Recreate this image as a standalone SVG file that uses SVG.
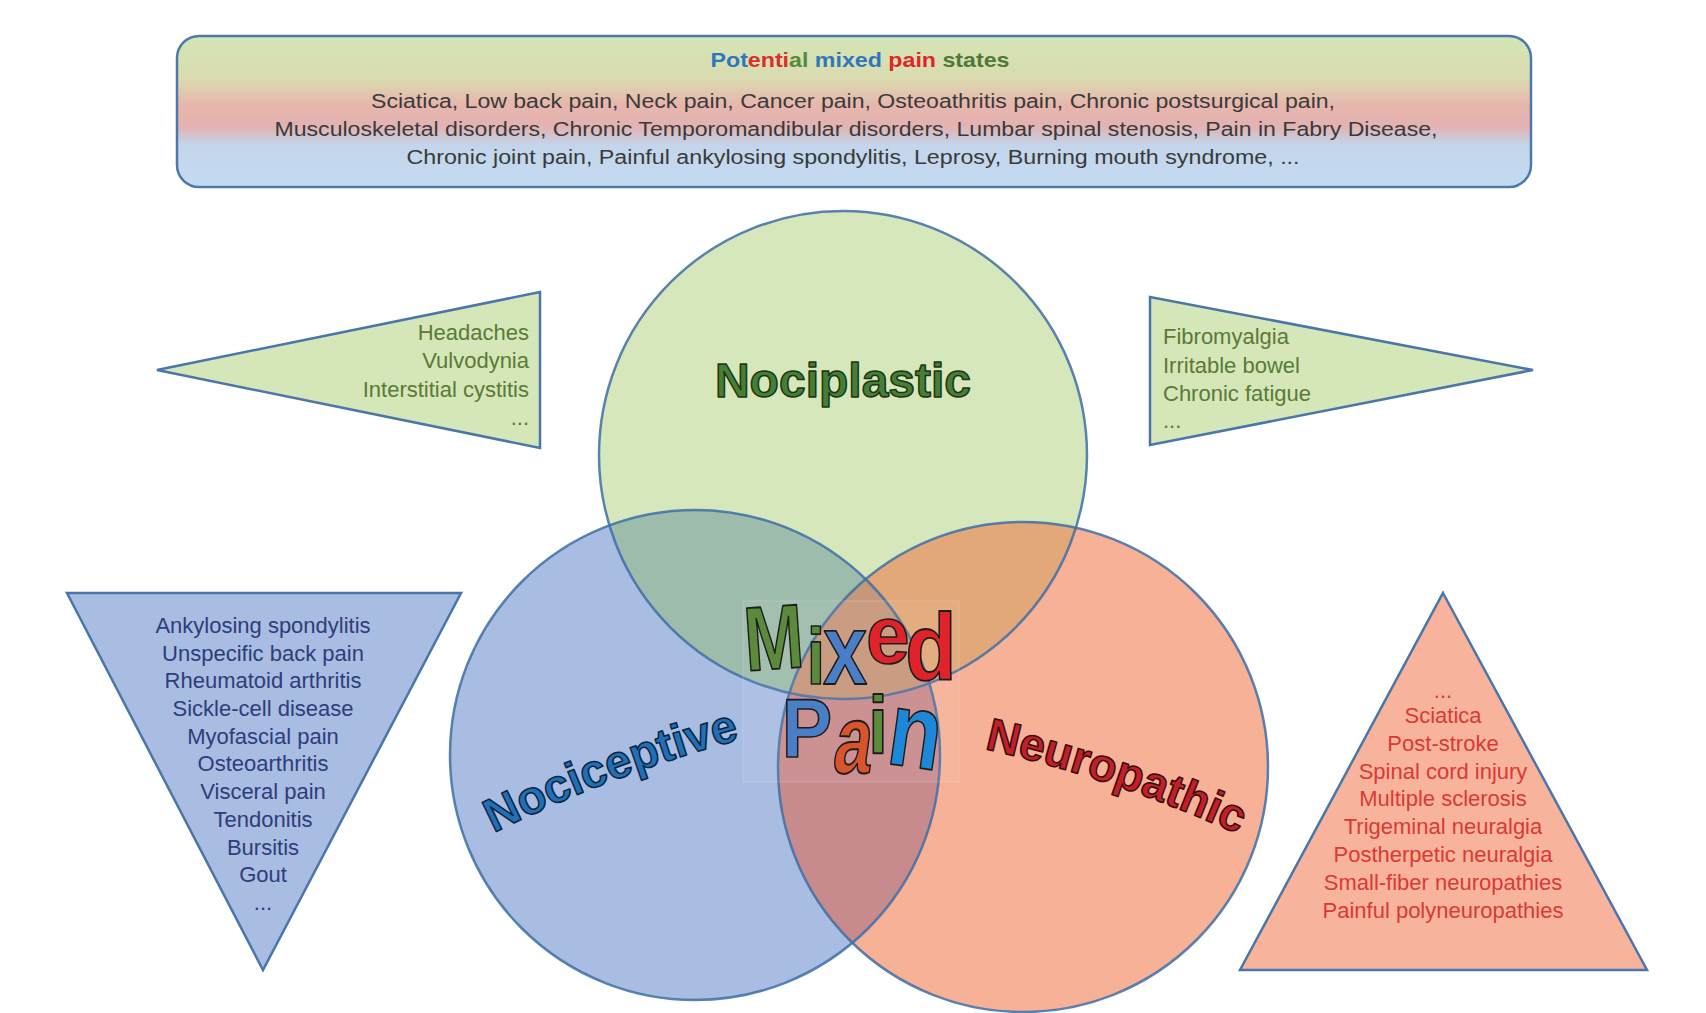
<svg xmlns="http://www.w3.org/2000/svg" width="1706" height="1013" viewBox="0 0 1706 1013">
<defs>
<style>
.t{font-family:"Liberation Sans",Arial,sans-serif}
.box{fill:url(#gBox);stroke:#4b79ad;stroke-width:2.5}
.tri{stroke:#4a76aa;stroke-width:2.5;stroke-linejoin:miter}
.body{font-size:20px;fill:#3a3a3a;text-anchor:middle}
.ttl{font-size:21px;font-weight:bold;text-anchor:middle}
.li{font-size:22px}
.gr{fill:#5a7a35}
.bl{fill:#2f3d7b;text-anchor:middle}
.rd{fill:#d93b36;text-anchor:middle}
.ring{fill:none;stroke:#3d6ea7;stroke-width:2.5;stroke-opacity:0.85}
.big{font-weight:bold;stroke-width:1.5;stroke-linejoin:round}
.mx{font-weight:bold;text-anchor:middle;stroke:#1c1c1c;stroke-width:1.4;stroke-linejoin:round}
</style>
<linearGradient id="gBox" x1="0" y1="0" x2="0" y2="1">
<stop offset="0" stop-color="#d3e6b6"/>
<stop offset="0.28" stop-color="#dadbb0"/>
<stop offset="0.45" stop-color="#e7b7ad"/>
<stop offset="0.6" stop-color="#e3b2b2"/>
<stop offset="0.72" stop-color="#c3d5eb"/>
<stop offset="1" stop-color="#c4dbf1"/>
</linearGradient>
<clipPath id="cT"><circle cx="843" cy="455" r="244"/></clipPath>
<clipPath id="cL"><circle cx="695" cy="755" r="245"/></clipPath>
<path id="pNoci" d="M 488 836 Q 612 773 746 738"/>
<path id="pNeur" d="M 980 748 Q 1115 778 1242 836"/>
</defs>
<rect width="1706" height="1013" fill="#ffffff"/>

<g id="mixed-states-box">
<rect class="box" x="177" y="36" width="1354" height="151" rx="22"/>
<text class="t ttl" x="860" y="67" textLength="299" lengthAdjust="spacingAndGlyphs"><tspan fill="#2f77bd">Pot</tspan><tspan fill="#d9302c">enti</tspan><tspan fill="#5a8a3a">al</tspan> <tspan fill="#2f77bd">mixed</tspan> <tspan fill="#e0262a">pain</tspan> <tspan fill="#4f7a35">states</tspan></text>
<text class="t body" x="853" y="108" textLength="964" lengthAdjust="spacingAndGlyphs">Sciatica, Low back pain, Neck pain, Cancer pain, Osteoathritis pain, Chronic postsurgical pain,</text>
<text class="t body" x="856" y="136" textLength="1163" lengthAdjust="spacingAndGlyphs">Musculoskeletal disorders, Chronic Temporomandibular disorders, Lumbar spinal stenosis, Pain in Fabry Disease,</text>
<text class="t body" x="853" y="164" textLength="893" lengthAdjust="spacingAndGlyphs">Chronic joint pain, Painful ankylosing spondylitis, Leprosy, Burning mouth syndrome, ...</text>
</g>

<g id="nociplastic-left-list">
<polygon class="tri" fill="#d5e6b9" points="157,370 540,292 540,448"/>
<text class="t li gr" text-anchor="end" x="529" y="340">Headaches</text>
<text class="t li gr" text-anchor="end" x="529" y="368">Vulvodynia</text>
<text class="t li gr" text-anchor="end" x="529" y="397">Interstitial cystitis</text>
<text class="t li gr" text-anchor="end" x="529" y="425">...</text>
</g>

<g id="nociplastic-right-list">
<polygon class="tri" fill="#d5e6b9" points="1150,297 1150,445 1533,370"/>
<text class="t li gr" x="1163" y="344">Fibromyalgia</text>
<text class="t li gr" x="1163" y="373">Irritable bowel</text>
<text class="t li gr" x="1163" y="401">Chronic fatigue</text>
<text class="t li gr" x="1163" y="428">...</text>
</g>

<g id="nociceptive-list">
<polygon class="tri" fill="#a9bce1" points="67,593 461,593 263,970"/>
<text class="t li bl" x="263" y="633">Ankylosing spondylitis</text>
<text class="t li bl" x="263" y="661">Unspecific back pain</text>
<text class="t li bl" x="263" y="688">Rheumatoid arthritis</text>
<text class="t li bl" x="263" y="716">Sickle-cell disease</text>
<text class="t li bl" x="263" y="744">Myofascial pain</text>
<text class="t li bl" x="263" y="771">Osteoarthritis</text>
<text class="t li bl" x="263" y="799">Visceral pain</text>
<text class="t li bl" x="263" y="827">Tendonitis</text>
<text class="t li bl" x="263" y="855">Bursitis</text>
<text class="t li bl" x="263" y="882">Gout</text>
<text class="t li bl" x="263" y="910">...</text>
</g>

<g id="neuropathic-list">
<polygon class="tri" fill="#f7b39b" points="1443,593 1647,970 1240,970"/>
<text class="t li rd" x="1443" y="698">...</text>
<text class="t li rd" x="1443" y="723">Sciatica</text>
<text class="t li rd" x="1443" y="751">Post-stroke</text>
<text class="t li rd" x="1443" y="779">Spinal cord injury</text>
<text class="t li rd" x="1443" y="806">Multiple sclerosis</text>
<text class="t li rd" x="1443" y="834">Trigeminal neuralgia</text>
<text class="t li rd" x="1443" y="862">Postherpetic neuralgia</text>
<text class="t li rd" x="1443" y="890">Small-fiber neuropathies</text>
<text class="t li rd" x="1443" y="918">Painful polyneuropathies</text>
</g>

<g id="venn">
<circle id="nociplastic-fill" cx="843" cy="455" r="244" fill="#d6e7bb"/>
<circle id="nociceptive-fill" cx="695" cy="755" r="245" fill="#a9bde3"/>
<circle id="neuropathic-fill" cx="1023" cy="767" r="245" fill="#f6b197"/>
<circle cx="695" cy="755" r="245" fill="#9ebcab" clip-path="url(#cT)"/>
<circle cx="1023" cy="767" r="245" fill="#e3a879" clip-path="url(#cT)"/>
<circle cx="1023" cy="767" r="245" fill="#c88b8d" clip-path="url(#cL)"/>
<g clip-path="url(#cL)"><circle cx="1023" cy="767" r="245" fill="#c7977b" clip-path="url(#cT)"/></g>
<circle class="ring" cx="843" cy="455" r="244"/>
<circle class="ring" cx="695" cy="755" r="245"/>
<circle class="ring" cx="1023" cy="767" r="245"/>
</g>

<g id="nociplastic-label">
<text class="t big" x="843" y="397" text-anchor="middle" font-size="48" fill="#467f34" stroke="#1b3516">Nociplastic</text>
</g>
<g id="nociceptive-label">
<text class="t big" font-size="47" fill="#1f70b6" stroke="#0c2440"><textPath href="#pNoci" startOffset="50%" text-anchor="middle">Nociceptive</textPath></text>
</g>
<g id="neuropathic-label">
<text class="t big" font-size="46" fill="#c21f2a" stroke="#3a0c0c"><textPath href="#pNeur" startOffset="50%" text-anchor="middle">Neuropathic</textPath></text>
</g>

<g id="mixed-pain-label">
<rect x="743" y="601" width="216" height="181" fill="#ffffff" fill-opacity="0.06" stroke="#ffffff" stroke-opacity="0.18" stroke-width="1"/>
<text class="t mx" font-size="70" fill="#5b8a3b" transform="translate(776,669) rotate(-4) scale(1.02,1.3)">M</text>
<text class="t mx" font-size="66" fill="#5b8a3b" transform="translate(816,684) scale(1.0,1.22)">i</text>
<text class="t mx" font-size="78" fill="#4a7fc7" transform="translate(845,684) scale(1.02,1.28)">x</text>
<text class="t mx" font-size="75" fill="#e0222a" transform="translate(888,663) scale(1.05,1.08)">e</text>
<text class="t mx" font-size="75" fill="#e0222a" transform="translate(931,680) scale(1.12,1.26)">d</text>
<text class="t mx" font-size="70" fill="#4a7fc7" transform="translate(807,757) scale(1.08,1.18)">P</text>
<text class="t mx" font-size="68" fill="#d9532c" transform="translate(850,773) skewX(-8) scale(1,1.43)">a</text>
<text class="t mx" font-size="60" fill="#5b8a3b" transform="translate(878,753) scale(1.15,1.35)">i</text>
<text class="t mx" font-size="85" fill="#1e88d8" transform="translate(911,767) rotate(8) scale(1.02,1.25)">n</text>
</g>

<g id="connectors"/>
</svg>
